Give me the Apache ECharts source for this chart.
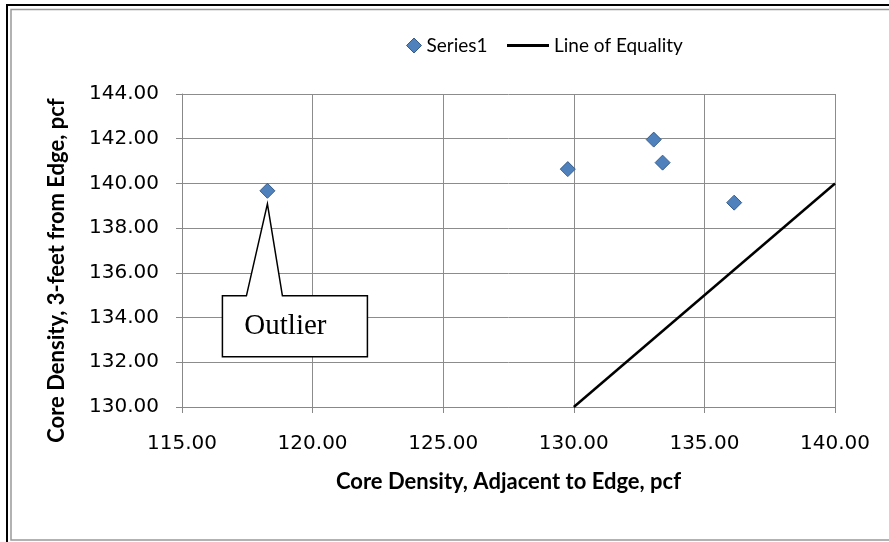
<!DOCTYPE html>
<html>
<head>
<meta charset="utf-8">
<script src="https://cdn.jsdelivr.net/npm/echarts@6/dist/echarts.min.js"></script>
<style>
html,body{margin:0;padding:0;background:#fff;}
#c{width:889px;height:542px;}
</style>
</head>
<body>
<div id="c"></div>
<script>
const seriesName = 'Series1';
const lineName = 'Line of Equality';
const xTitle = 'Core Density, Adjacent to Edge, pcf';
const yTitle = 'Core Density, 3-feet from Edge, pcf';
const xValues = [118.27, 129.77, 133.06, 133.40, 136.14];
const yValues = [139.67, 140.64, 141.96, 140.93, 139.14];
const equalityX = [130, 140];
const equalityY = [130, 140];
const xTicks = [115, 120, 125, 130, 135, 140];
const yTicks = [130, 132, 134, 136, 138, 140, 142, 144];
const outlierIndex = 0;
const outlierLabel = 'Outlier';

const chart = echarts.init(document.getElementById('c'));
const tickFont = {fontFamily: 'DejaVu Sans', fontSize: 20, color: '#000'};
const titleFont = {fontFamily: 'Lato', fontWeight: 'bold', fontSize: 22, color: '#000'};
const legendText = {fontFamily: 'Lato', fontSize: 19, color: '#000'};

chart.setOption({
  animation: false,
  backgroundColor: '#fff',
  grid: {left: 182, right: 54, top: 94, bottom: 135},
  legend: [
    {
      left: 401, top: 31, itemWidth: 15, itemHeight: 15,
      textStyle: legendText,
      data: [{name: seriesName, icon: 'diamond', itemStyle: {color: '#4F81BD', borderColor: '#385D8A', borderWidth: 1}}]
    },
    {
      left: 502, top: 31, itemWidth: 42, itemHeight: 3,
      textStyle: legendText,
      data: [{name: lineName, icon: 'rect', itemStyle: {color: '#000'}}]
    }
  ],
  xAxis: {
    type: 'value', min: xTicks[0], max: xTicks[xTicks.length - 1], interval: 5,
    name: xTitle, nameLocation: 'middle', nameGap: 64, nameTextStyle: titleFont,
    axisLine: {show: true, lineStyle: {color: '#888', width: 1}},
    axisTick: {show: true, length: 6, lineStyle: {color: '#888'}},
    axisLabel: Object.assign({margin: 27, formatter: v => v.toFixed(2)}, tickFont),
    splitLine: {show: true, lineStyle: {color: '#8c8c8c', width: 1}}
  },
  yAxis: {
    type: 'value', min: yTicks[0], max: yTicks[yTicks.length - 1], interval: 2,
    name: yTitle, nameLocation: 'middle', nameGap: 114,
    nameTextStyle: Object.assign({padding: [0, 40, 0, 0]}, titleFont),
    axisLine: {show: true, lineStyle: {color: '#888', width: 1}},
    axisTick: {show: true, length: 6, lineStyle: {color: '#888'}},
    axisLabel: Object.assign({margin: 23, formatter: v => v.toFixed(2)}, tickFont),
    splitLine: {show: true, lineStyle: {color: '#8c8c8c', width: 1}}
  },
  series: [
    {
      name: seriesName, type: 'scatter', symbol: 'diamond', symbolSize: 15,
      itemStyle: {color: '#4F81BD', borderColor: '#385D8A', borderWidth: 1, opacity: 1},
      data: xValues.map((x, i) => [x, yValues[i]]), z: 3
    },
    {
      name: lineName, type: 'line', symbol: 'none', showSymbol: false,
      lineStyle: {color: '#000', width: 2.5}, itemStyle: {color: '#000'},
      data: equalityX.map((x, i) => [x, equalityY[i]]), z: 2
    }
  ]
});

// Callout annotation anchored to the outlier point
const tip = chart.convertToPixel({gridIndex: 0}, [xValues[outlierIndex], yValues[outlierIndex]]);
const tx = tip[0], ty = tip[1] + 13;
const boxL = tx - 45, boxR = tx + 100, boxT = ty + 92, boxB = ty + 153;
chart.setOption({
  graphic: [
    {type: 'rect', shape: {x: 7, y: 5, width: 950, height: 600}, style: {fill: 'none', stroke: '#000', lineWidth: 2}, silent: true},
    {type: 'rect', shape: {x: 11, y: 9.5, width: 950, height: 530.5}, style: {fill: 'none', stroke: '#999', lineWidth: 1.5}, silent: true},
    {
      type: 'polygon', z: 10,
      shape: {points: [[boxL, boxT], [tx - 21, boxT], [tx, ty], [tx + 15, boxT], [boxR, boxT], [boxR, boxB], [boxL, boxB]]},
      style: {fill: '#fff', stroke: '#000', lineWidth: 1.5}
    },
    {
      type: 'text', z: 11,
      style: {x: boxL + 63, y: (boxT + boxB) / 2, text: outlierLabel, textAlign: 'center', textVerticalAlign: 'middle',
        font: '29px "Liberation Serif"', fill: '#000'}
    }
  ]
});
</script>
</body>
</html>
